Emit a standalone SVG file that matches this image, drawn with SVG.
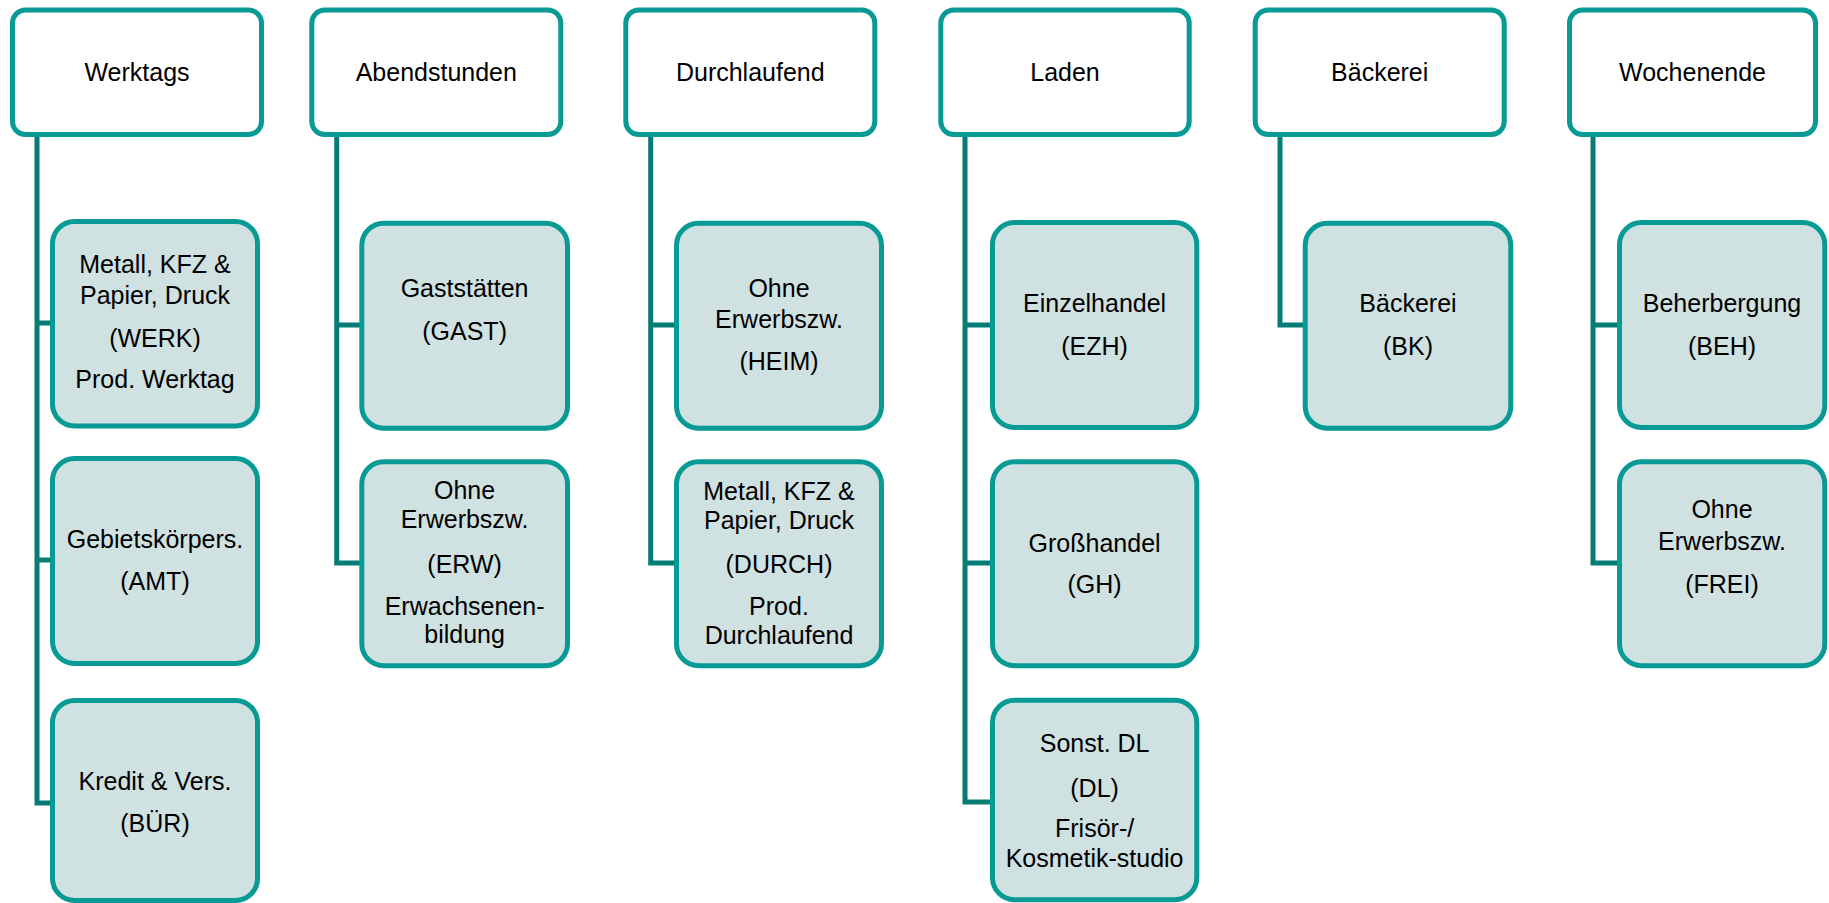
<svg xmlns="http://www.w3.org/2000/svg" width="1829" height="903" viewBox="0 0 1829 903">
<style>
.hdr{fill:#ffffff;stroke:#089a94;stroke-width:5}
.box{fill:#cfe1e0;stroke:#089a94;stroke-width:5}
.con{fill:none;stroke:#067c77;stroke-width:5;stroke-linejoin:miter}
text{font-family:"Liberation Sans",Arial,sans-serif;font-size:25px;fill:#000;text-anchor:middle}
</style>
<rect x="0" y="0" width="1829" height="903" fill="#ffffff"/>
<g id="connectors">
<path class="con" d="M37 136 V803 H52 M37 323 H52 M37 560 H52"/>
<path class="con" d="M336.7 136 V563 H361 M336.7 325 H361"/>
<path class="con" d="M650.7 136 V563 H676 M650.7 325 H676"/>
<path class="con" d="M965 136 V802 H992 M965 325 H992 M965 563 H992"/>
<path class="con" d="M1280 136 V325 H1305"/>
<path class="con" d="M1593 136 V563 H1619 M1593 325 H1619"/>
</g>
<g id="h-werktags"><rect class="hdr" x="12.5" y="10" width="249" height="124.5" rx="13"/><text x="137" y="81">Werktags</text></g>
<g id="h-abend"><rect class="hdr" x="311.8" y="10" width="249" height="124.5" rx="13"/><text x="436.3" y="81">Abendstunden</text></g>
<g id="h-durch"><rect class="hdr" x="625.8" y="10" width="249" height="124.5" rx="13"/><text x="750.3" y="81">Durchlaufend</text></g>
<g id="h-laden"><rect class="hdr" x="940.8" y="10" width="248.4" height="124.5" rx="13"/><text x="1065" y="81">Laden</text></g>
<g id="h-baeckerei"><rect class="hdr" x="1255.2" y="10" width="249" height="124.5" rx="13"/><text x="1379.7" y="81">Bäckerei</text></g>
<g id="h-wochenende"><rect class="hdr" x="1569.5" y="10" width="246" height="124.5" rx="13"/><text x="1692.5" y="81">Wochenende</text></g>

<g id="werk"><rect class="box" x="52.5" y="221.5" width="205" height="204.5" rx="22"/>
<text x="155" y="273">Metall, KFZ &amp;</text><text x="155" y="304">Papier, Druck</text><text x="155" y="347">(WERK)</text><text x="155" y="388">Prod. Werktag</text></g>
<g id="amt"><rect class="box" x="52.5" y="458.5" width="205" height="205" rx="22"/>
<text x="155" y="548">Gebietskörpers.</text><text x="155" y="590">(AMT)</text></g>
<g id="buer"><rect class="box" x="52.5" y="700.5" width="205" height="200" rx="22"/>
<text x="155" y="790">Kredit &amp; Vers.</text><text x="155" y="832">(BÜR)</text></g>

<g id="gast"><rect class="box" x="361.8" y="223.2" width="205.7" height="205" rx="22"/>
<text x="464.6" y="297">Gaststätten</text><text x="464.6" y="340">(GAST)</text></g>
<g id="erw"><rect class="box" x="361.8" y="461.8" width="205.7" height="204" rx="22"/>
<text x="464.6" y="499">Ohne</text><text x="464.6" y="528">Erwerbszw.</text><text x="464.6" y="573">(ERW)</text><text x="464.6" y="615">Erwachsenen-</text><text x="464.6" y="643">bildung</text></g>

<g id="heim"><rect class="box" x="676.5" y="223.2" width="205" height="205" rx="22"/>
<text x="779" y="297">Ohne</text><text x="779" y="328">Erwerbszw.</text><text x="779" y="370">(HEIM)</text></g>
<g id="durch"><rect class="box" x="676.5" y="461.8" width="205" height="204" rx="22"/>
<text x="779" y="500">Metall, KFZ &amp;</text><text x="779" y="529">Papier, Druck</text><text x="779" y="573">(DURCH)</text><text x="779" y="615">Prod.</text><text x="779" y="644">Durchlaufend</text></g>

<g id="ezh"><rect class="box" x="992.5" y="222.5" width="204.3" height="205" rx="22"/>
<text x="1094.6" y="312">Einzelhandel</text><text x="1094.6" y="355">(EZH)</text></g>
<g id="gh"><rect class="box" x="992.5" y="461.8" width="204.3" height="204" rx="22"/>
<text x="1094.6" y="552">Großhandel</text><text x="1094.6" y="593">(GH)</text></g>
<g id="dl"><rect class="box" x="992.5" y="700.2" width="204.3" height="199.5" rx="22"/>
<text x="1094.6" y="752">Sonst. DL</text><text x="1094.6" y="797">(DL)</text><text x="1094.6" y="837">Frisör-/</text><text x="1094.6" y="867">Kosmetik-studio</text></g>

<g id="bk"><rect class="box" x="1305.2" y="223.2" width="205.6" height="205" rx="22"/>
<text x="1408" y="312">Bäckerei</text><text x="1408" y="355">(BK)</text></g>

<g id="beh"><rect class="box" x="1619.5" y="222.5" width="205.3" height="205" rx="22"/>
<text x="1722" y="312">Beherbergung</text><text x="1722" y="355">(BEH)</text></g>
<g id="frei"><rect class="box" x="1619.5" y="461.8" width="205.3" height="204" rx="22"/>
<text x="1722" y="518">Ohne</text><text x="1722" y="550">Erwerbszw.</text><text x="1722" y="593">(FREI)</text></g>
</svg>
